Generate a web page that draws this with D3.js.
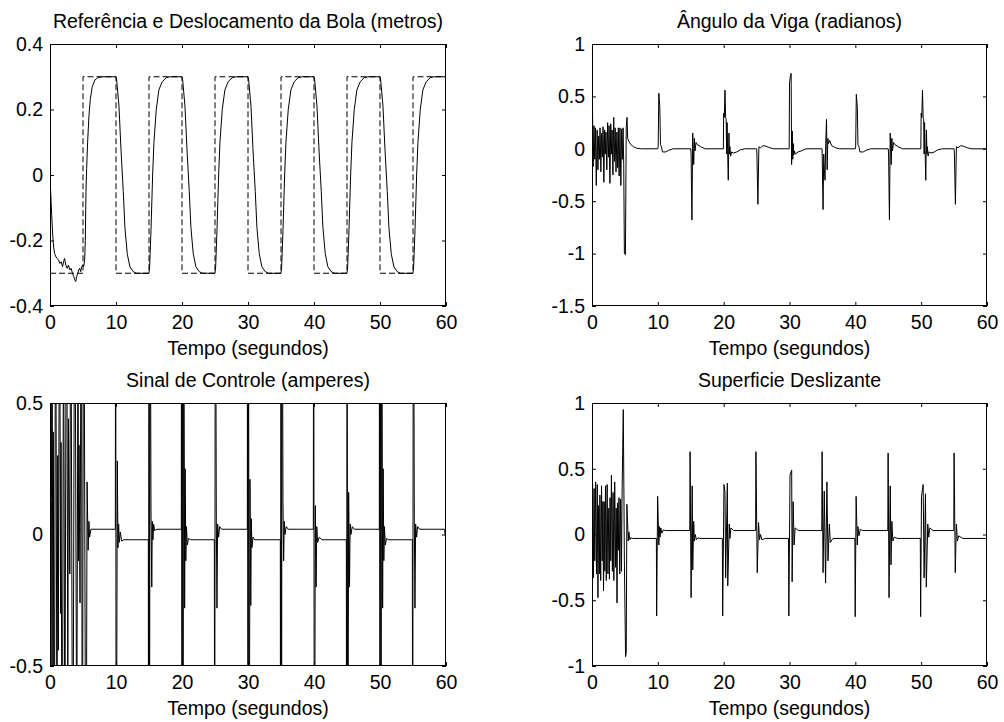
<!DOCTYPE html>
<html>
<head>
<meta charset="utf-8">
<script src="https://cdn.jsdelivr.net/npm/d3@7"></script>
<style>
  body { margin: 0; background: #fff; }
  svg { display: block; }
  text { font-family: "Liberation Sans", Arial, sans-serif; fill: #000; }
</style>
</head>
<body>
<svg id="chart" width="1004" height="722"></svg>
<script>
// time axis ticks shared by every panel
var xTicks = [0, 10, 20, 30, 40, 50, 60];

var ballTicks = [-0.4, -0.2, 0, 0.2, 0.4];
var angleTicks = [-1.5, -1, -0.5, 0, 0.5, 1];
var controlTicks = [-0.5, 0, 0.5];
var surfaceTicks = [-1, -0.5, 0, 0.5, 1];

// reference (dashed square wave), [t, metros]
var reference = [
  [0, -0.3], [5, -0.3], [5, 0.3], [10, 0.3], [10, -0.3], [15, -0.3], [15, 0.3], [20, 0.3],
  [20, -0.3], [25, -0.3], [25, 0.3], [30, 0.3], [30, -0.3], [35, -0.3], [35, 0.3], [40, 0.3],
  [40, -0.3], [45, -0.3], [45, 0.3], [50, 0.3], [50, -0.3], [55, -0.3], [55, 0.3], [60, 0.3]
];

// ball displacement, [t, metros]
var ball = [
  [0, -0.01], [0.1, -0.05], [0.25, -0.12], [0.4, -0.18], [0.55, -0.22], [0.7, -0.24], [0.9, -0.25],
  [1.1, -0.255], [1.3, -0.26], [1.5, -0.27], [1.7, -0.265], [1.9, -0.28], [2.05, -0.265], [2.2, -0.255],
  [2.4, -0.275], [2.6, -0.285], [2.8, -0.275], [3.0, -0.29], [3.2, -0.285], [3.4, -0.3], [3.6, -0.31],
  [3.75, -0.32], [3.9, -0.325], [4.05, -0.31], [4.2, -0.3], [4.35, -0.29], [4.5, -0.285], [4.65, -0.295],
  [4.8, -0.28], [4.95, -0.275], [5.1, -0.28], [5.25, -0.26], [5.35, -0.2], [5.45, -0.05], [5.55, 0.02],
  [5.7, 0.1], [5.9, 0.18], [6.1, 0.23], [6.4, 0.27], [6.8, 0.29], [7.3, 0.298], [8, 0.3], [10, 0.3],
  [10.1, 0.29], [10.45, 0.21], [10.75, 0.08], [11.1, -0.05], [11.35, -0.16], [11.7, -0.24], [12.1, -0.28],
  [12.6, -0.295], [13.1, -0.3], [15, -0.3],
  [15.1, -0.28], [15.3, -0.17], [15.55, 0], [15.75, 0.1], [16.1, 0.2], [16.5, 0.26], [17, 0.285],
  [17.6, 0.297], [18.2, 0.3], [20, 0.3],
  [20.1, 0.29], [20.45, 0.21], [20.75, 0.08], [21.1, -0.05], [21.35, -0.16], [21.7, -0.24], [22.1, -0.28],
  [22.6, -0.295], [23.1, -0.3], [25, -0.3],
  [25.1, -0.28], [25.3, -0.17], [25.55, 0], [25.75, 0.1], [26.1, 0.2], [26.5, 0.26], [27, 0.285],
  [27.6, 0.297], [28.2, 0.3], [30, 0.3],
  [30.1, 0.29], [30.45, 0.21], [30.75, 0.08], [31.1, -0.05], [31.35, -0.16], [31.7, -0.24], [32.1, -0.28],
  [32.6, -0.295], [33.1, -0.3], [35, -0.3],
  [35.1, -0.28], [35.3, -0.17], [35.55, 0], [35.75, 0.1], [36.1, 0.2], [36.5, 0.26], [37, 0.285],
  [37.6, 0.297], [38.2, 0.3], [40, 0.3],
  [40.1, 0.29], [40.45, 0.21], [40.75, 0.08], [41.1, -0.05], [41.35, -0.16], [41.7, -0.24], [42.1, -0.28],
  [42.6, -0.295], [43.1, -0.3], [45, -0.3],
  [45.1, -0.28], [45.3, -0.17], [45.55, 0], [45.75, 0.1], [46.1, 0.2], [46.5, 0.26], [47, 0.285],
  [47.6, 0.297], [48.2, 0.3], [50, 0.3],
  [50.1, 0.29], [50.45, 0.21], [50.75, 0.08], [51.1, -0.05], [51.35, -0.16], [51.7, -0.24], [52.1, -0.28],
  [52.6, -0.295], [53.1, -0.3], [55, -0.3],
  [55.1, -0.28], [55.3, -0.17], [55.55, 0], [55.75, 0.1], [56.1, 0.2], [56.5, 0.26], [57, 0.285],
  [57.6, 0.297], [58.2, 0.3], [60, 0.3]
];

// beam angle, [t, radianos]
var angle = [
  [0, 0.4], [0.08, 0.38], [0.18, -0.17], [0.3, 0.22], [0.42, -0.1], [0.52, 0.2], [0.65, -0.35],
  [0.78, 0.18], [0.9, -0.2], [1.0, 0.12], [1.12, -0.1], [1.22, 0.2], [1.35, -0.22], [1.45, 0.15],
  [1.58, -0.08], [1.68, 0.21], [1.8, -0.32], [1.92, 0.18], [2.02, -0.05], [2.12, 0.16], [2.25, -0.2],
  [2.38, 0.25], [2.5, -0.08], [2.6, 0.22], [2.72, -0.33], [2.85, 0.24], [2.95, -0.05], [3.05, 0.18],
  [3.18, -0.25], [3.3, 0.3], [3.42, -0.12], [3.52, 0.2], [3.65, -0.22], [3.78, 0.16], [3.9, -0.18],
  [4.0, 0.2], [4.12, -0.26], [4.25, 0.2], [4.38, -0.35], [4.5, 0.19], [4.62, -0.1], [4.72, 0.2],
  [4.82, -0.15], [4.92, -1.0], [5.08, -1.01], [5.2, 0.2], [5.32, 0.3], [5.42, 0.1], [5.6, 0.07],
  [5.9, 0.04], [6.3, 0.02], [6.8, 0.005], [7.5, 0], [10.0, 0],
  [10.05, 0.02], [10.15, 0.53], [10.3, 0.4], [10.4, 0.04], [10.55, 0.02], [10.7, -0.03], [11.2, -0.03],
  [11.6, -0.015], [12.3, 0], [15.0, 0],
  [15.05, -0.05], [15.18, -0.68], [15.3, 0.15], [15.45, -0.15], [15.55, 0.1], [15.65, -0.02], [15.8, 0.06],
  [16.0, 0.04], [16.5, 0.02], [17.2, 0], [19.95, 0],
  [20.0, 0.34], [20.1, 0.3], [20.2, 0.56], [20.3, 0.3], [20.38, 0.28], [20.45, -0.05], [20.52, 0.25],
  [20.6, -0.02], [20.7, -0.3], [20.8, 0.15], [20.88, -0.05], [20.95, 0.02], [21.05, -0.07], [21.2, -0.03],
  [21.5, -0.04], [22, -0.03], [22.5, -0.01], [23.2, 0], [25, 0],
  [25.05, -0.05], [25.2, -0.53], [25.35, 0.02], [25.6, 0.01], [26.0, 0.03], [26.4, 0.025], [27, 0.01],
  [27.6, 0], [29.95, 0],
  [30.0, 0.63], [30.15, 0.7], [30.25, 0.72], [30.32, -0.15], [30.42, 0.17], [30.5, -0.1], [30.58, 0.05],
  [30.65, -0.06], [30.75, -0.02], [30.9, -0.05], [31.3, -0.03], [31.8, -0.02], [32.5, 0], [34.95, 0],
  [35.05, -0.4], [35.1, -0.58], [35.2, -0.05], [35.3, -0.2], [35.4, -0.3], [35.5, 0.05], [35.62, 0.28],
  [35.72, -0.2], [35.82, 0.1], [35.92, 0.05], [36.1, 0.08], [36.4, 0.03], [37, 0.01], [37.6, 0], [40, 0],
  [40.05, 0.02], [40.15, 0.52], [40.3, 0.4], [40.4, 0.04], [40.55, 0.02], [40.7, -0.03], [41.2, -0.03],
  [41.6, -0.015], [42.3, 0], [45, 0],
  [45.05, -0.05], [45.18, -0.68], [45.3, 0.15], [45.45, -0.15], [45.55, 0.1], [45.65, -0.02], [45.8, 0.06],
  [46.0, 0.04], [46.5, 0.02], [47.2, 0], [49.95, 0],
  [50.0, 0.34], [50.1, 0.3], [50.2, 0.56], [50.3, 0.3], [50.38, 0.28], [50.45, -0.05], [50.52, 0.25],
  [50.6, -0.02], [50.7, -0.3], [50.8, 0.18], [50.88, -0.05], [50.95, 0.02], [51.05, -0.07], [51.2, -0.03],
  [51.5, -0.04], [52, -0.03], [52.5, -0.01], [53.2, 0], [55, 0],
  [55.05, -0.05], [55.2, -0.53], [55.35, 0.02], [55.6, 0.01], [56.0, 0.03], [56.4, 0.025], [57, 0.01],
  [57.6, 0], [60, 0]
];

// control signal, [t, amperes] - swings past +-0.5 are clipped by the axes
var control = [
  [0, 0.0], [0.05, 1.0], [0.15, -1.0], [0.22, 0.13], [0.3, 1.2], [0.45, -0.8], [0.5, 0.39], [0.65, -1.2],
  [0.85, 1.3], [1.05, -0.9], [1.18, 0.3], [1.26, -0.44], [1.45, 1.2], [1.6, -0.3], [1.67, 0.35],
  [1.85, -1.3], [2.05, 1.0], [2.25, -0.9], [2.5, 1.3], [2.7, -0.6], [2.8, 0.44], [3.0, -0.15],
  [3.15, 1.2], [3.45, -1.3], [3.75, 1.3], [4.05, -0.9], [4.25, 0.9], [4.32, -0.1], [4.4, 0.34],
  [4.55, -0.26], [4.75, 1.3], [4.9, -1.3], [5.1, 1.4], [5.45, -1.4], [5.62, 0.2], [5.78, -0.06],
  [5.9, 0.05], [6.0, -0.01], [6.2, 0.02], [9.9, 0.02],
  [9.95, 1.5], [10.02, -1.5], [10.2, 0.28], [10.3, -0.05], [10.4, 0.04], [10.5, -0.03], [10.65, 0.01],
  [10.85, -0.025], [11.2, -0.02], [14.9, -0.02],
  [14.93, -1.5], [15.0, 1.5], [15.08, -1.5], [15.16, 1.5], [15.3, 0.1], [15.42, -0.2], [15.5, 0.05],
  [15.6, -0.02], [15.7, 0.04], [15.85, 0.015], [16.2, 0.02], [19.9, 0.02],
  [19.92, 1.5], [20.0, -1.5], [20.08, 1.5], [20.16, -1.5], [20.24, 1.5], [20.4, -0.28], [20.48, 0.25],
  [20.58, -0.1], [20.68, 0.03], [20.8, -0.04], [21, -0.015], [21.3, -0.02], [24.9, -0.02],
  [24.95, -1.5], [25.05, 1.5], [25.2, 0.05], [25.3, -0.28], [25.4, 0.04], [25.55, -0.01], [25.7, 0.03],
  [26, 0.02], [29.9, 0.02],
  [29.92, 1.5], [30.0, -1.5], [30.08, 1.5], [30.16, -1.5], [30.3, 0.21], [30.42, -0.27], [30.5, 0.06],
  [30.6, -0.05], [30.75, -0.01], [31, -0.02], [34.9, -0.02],
  [34.93, -1.5], [35.0, 1.5], [35.08, -1.5], [35.16, 1.5], [35.3, 0.12], [35.4, -0.1], [35.5, 0.05],
  [35.6, 0.0], [35.8, 0.03], [36.1, 0.02], [39.9, 0.02],
  [39.95, 1.5], [40.05, -1.5], [40.2, 0.11], [40.32, -0.2], [40.42, 0.03], [40.55, -0.03], [40.8, -0.01],
  [41.2, -0.02], [44.9, -0.02],
  [44.94, -1.5], [45.02, 1.5], [45.1, -1.5], [45.25, 0.16], [45.38, -0.2], [45.48, 0.04], [45.6, 0.0],
  [45.8, 0.03], [46.1, 0.02], [49.9, 0.02],
  [49.92, 1.5], [50.0, -1.5], [50.08, 1.5], [50.16, -1.5], [50.24, 1.5], [50.4, -0.28], [50.48, 0.25],
  [50.58, -0.1], [50.68, 0.03], [50.8, -0.04], [51, -0.015], [51.3, -0.02], [54.9, -0.02],
  [54.95, -1.5], [55.05, 1.5], [55.2, 0.05], [55.3, -0.28], [55.4, 0.04], [55.55, -0.01], [55.7, 0.03],
  [56, 0.02], [59.8, 0.02], [59.85, 0.0], [60, 0.0]
];

// sliding surface, [t, s]
var surface = [
  [0, 0.33], [0.1, 0.38], [0.2, -0.33], [0.32, 0.35], [0.42, -0.2], [0.55, 0.4], [0.68, -0.3], [0.8, 0.38],
  [0.9, -0.48], [1.0, 0.22], [1.12, -0.3], [1.2, 0.3], [1.32, -0.35], [1.45, 0.37], [1.55, -0.2],
  [1.65, 0.25], [1.75, -0.43], [1.85, 0.25], [1.95, -0.28], [2.05, 0.37], [2.17, -0.35], [2.3, 0.38],
  [2.42, -0.3], [2.55, 0.2], [2.65, -0.34], [2.75, 0.28], [2.85, -0.2], [2.95, 0.45], [3.1, -0.28],
  [3.2, 0.32], [3.32, -0.35], [3.45, 0.4], [3.58, -0.25], [3.68, 0.2], [3.8, -0.52], [3.9, 0.24],
  [4.0, -0.12], [4.1, 0.28], [4.22, -0.3], [4.35, 0.27], [4.48, -0.28], [4.55, 0.24], [4.75, 0.95],
  [4.85, 0.3], [4.92, -0.2], [5.1, -0.93], [5.2, -0.9], [5.3, 0.23], [5.4, 0.1], [5.5, -0.05],
  [5.6, 0.02], [5.75, -0.04], [5.9, -0.025], [6.2, -0.03], [9.78, -0.03],
  [9.82, -0.62], [9.97, 0.29], [10.15, -0.08], [10.25, 0.06], [10.35, -0.02], [10.45, 0.05],
  [10.6, 0.01], [10.8, 0.035], [11.2, 0.03], [14.85, 0.03],
  [14.9, 0.63], [15.05, -0.48], [15.22, 0.37], [15.3, -0.27], [15.45, 0.1], [15.55, -0.05], [15.7, 0.0],
  [15.85, -0.04], [16.1, -0.025], [16.4, -0.03], [19.8, -0.03],
  [19.85, -0.62], [20.05, 0.38], [20.2, 0.32], [20.3, -0.33], [20.56, 0.39], [20.62, -0.39], [20.85, 0.08],
  [20.95, -0.03], [21.1, 0.05], [21.5, 0.03], [24.85, 0.03],
  [24.9, 0.63], [25.1, -0.29], [25.3, 0.09], [25.45, -0.04], [25.6, 0.0], [25.8, -0.04], [26.3, -0.03],
  [29.85, -0.03],
  [29.9, -0.62], [30.08, 0.45], [30.33, 0.49], [30.4, -0.36], [30.55, 0.25], [30.7, -0.08], [30.85, 0.05],
  [31.35, 0.03], [34.9, 0.03],
  [34.95, 0.63], [35.1, -0.29], [35.28, 0.33], [35.48, -0.37], [35.68, 0.4], [35.85, -0.2], [36.05, 0.08],
  [36.2, -0.06], [36.6, -0.03], [39.93, -0.03],
  [39.98, -0.625], [40.12, 0.29], [40.3, -0.08], [40.4, 0.06], [40.55, -0.01], [40.75, 0.04], [41.1, 0.03],
  [44.93, 0.03],
  [44.98, 0.62], [45.12, -0.48], [45.3, 0.37], [45.42, -0.23], [45.55, 0.1], [45.7, -0.05], [45.9, -0.02],
  [46.4, -0.03], [49.87, -0.03],
  [49.92, -0.625], [50.05, 0.29], [50.3, 0.38], [50.45, -0.33], [50.65, 0.31], [50.78, -0.4], [51.0, 0.08],
  [51.15, -0.02], [51.3, 0.05], [51.8, 0.03], [54.95, 0.03],
  [55.0, 0.62], [55.18, -0.29], [55.35, 0.08], [55.5, -0.05], [55.7, -0.01], [56.3, -0.03], [59.95, -0.03],
  [60, -0.3]
];

var svg = d3.select('#chart');
var fontSize = 19.5;
var tickLen = 4;

function fmt(d) { return String(d); }

// one MATLAB-style subplot: boxed axes, inward ticks on all four sides
function drawPanel(opts) {
  var x = d3.scaleLinear().domain([0, 60]).range([opts.left, opts.right]);
  var y = d3.scaleLinear().domain(opts.yDomain).range([opts.bottom, opts.top]);
  var g = svg.append('g');

  var clipId = 'clip-' + opts.id;
  g.append('clipPath').attr('id', clipId)
    .append('rect')
    .attr('x', opts.left).attr('y', opts.top)
    .attr('width', opts.right - opts.left).attr('height', opts.bottom - opts.top);

  var line = d3.line()
    .x(function (d) { return x(d[0]); })
    .y(function (d) { return y(d[1]); });

  var plot = g.append('g').attr('clip-path', 'url(#' + clipId + ')');
  opts.series.forEach(function (s) {
    plot.append('path')
      .datum(s.data)
      .attr('d', line)
      .attr('fill', 'none')
      .attr('stroke', '#000')
      .attr('stroke-width', 1)
      .attr('stroke-dasharray', s.dash || null);
  });

  function styleAxis(sel) {
    sel.select('.domain').remove();
    sel.selectAll('line').attr('stroke', '#000');
    sel.selectAll('text').style('font-size', fontSize + 'px').attr('fill', '#000');
  }

  g.append('g').attr('transform', 'translate(0,' + opts.bottom + ')')
    .call(d3.axisBottom(x).tickValues(xTicks).tickFormat(fmt)
      .tickSizeInner(-tickLen).tickSizeOuter(0).tickPadding(9))
    .call(styleAxis);
  g.append('g').attr('transform', 'translate(0,' + opts.top + ')')
    .call(d3.axisTop(x).tickValues(xTicks).tickFormat('')
      .tickSizeInner(-tickLen).tickSizeOuter(0))
    .call(styleAxis);
  g.append('g').attr('transform', 'translate(' + opts.left + ',0)')
    .call(d3.axisLeft(y).tickValues(opts.yTicks).tickFormat(fmt)
      .tickSizeInner(-tickLen).tickSizeOuter(0).tickPadding(7))
    .call(styleAxis);
  g.append('g').attr('transform', 'translate(' + opts.right + ',0)')
    .call(d3.axisRight(y).tickValues(opts.yTicks).tickFormat('')
      .tickSizeInner(-tickLen).tickSizeOuter(0))
    .call(styleAxis);

  g.append('rect')
    .attr('x', opts.left + 0.5).attr('y', opts.top + 0.5)
    .attr('width', opts.right - opts.left - 1).attr('height', opts.bottom - opts.top - 1)
    .attr('fill', 'none').attr('stroke', '#000').attr('stroke-width', 1);

  var cx = (opts.left + opts.right) / 2;
  g.append('text')
    .attr('x', cx).attr('y', opts.top - 16)
    .attr('text-anchor', 'middle')
    .style('font-size', fontSize + 'px')
    .text(opts.title);
  g.append('text')
    .attr('x', cx).attr('y', opts.bottom + 49)
    .attr('text-anchor', 'middle')
    .style('font-size', fontSize + 'px')
    .text('Tempo (segundos)');
}

drawPanel({
  id: 'bola', left: 50, right: 446, top: 44, bottom: 306,
  yDomain: [-0.4, 0.4], yTicks: ballTicks,
  title: 'Referência e Deslocamento da Bola (metros)',
  series: [{ data: reference, dash: '6,3' }, { data: ball }]
});

drawPanel({
  id: 'viga', left: 592, right: 987, top: 44, bottom: 306,
  yDomain: [-1.5, 1], yTicks: angleTicks,
  title: 'Ângulo da Viga (radianos)',
  series: [{ data: angle }]
});

drawPanel({
  id: 'controle', left: 50, right: 446, top: 403, bottom: 666,
  yDomain: [-0.5, 0.5], yTicks: controlTicks,
  title: 'Sinal de Controle (amperes)',
  series: [{ data: control }]
});

drawPanel({
  id: 'superficie', left: 592, right: 987, top: 403, bottom: 666,
  yDomain: [-1, 1], yTicks: surfaceTicks,
  title: 'Superficie Deslizante',
  series: [{ data: surface }]
});
</script>
</body>
</html>
